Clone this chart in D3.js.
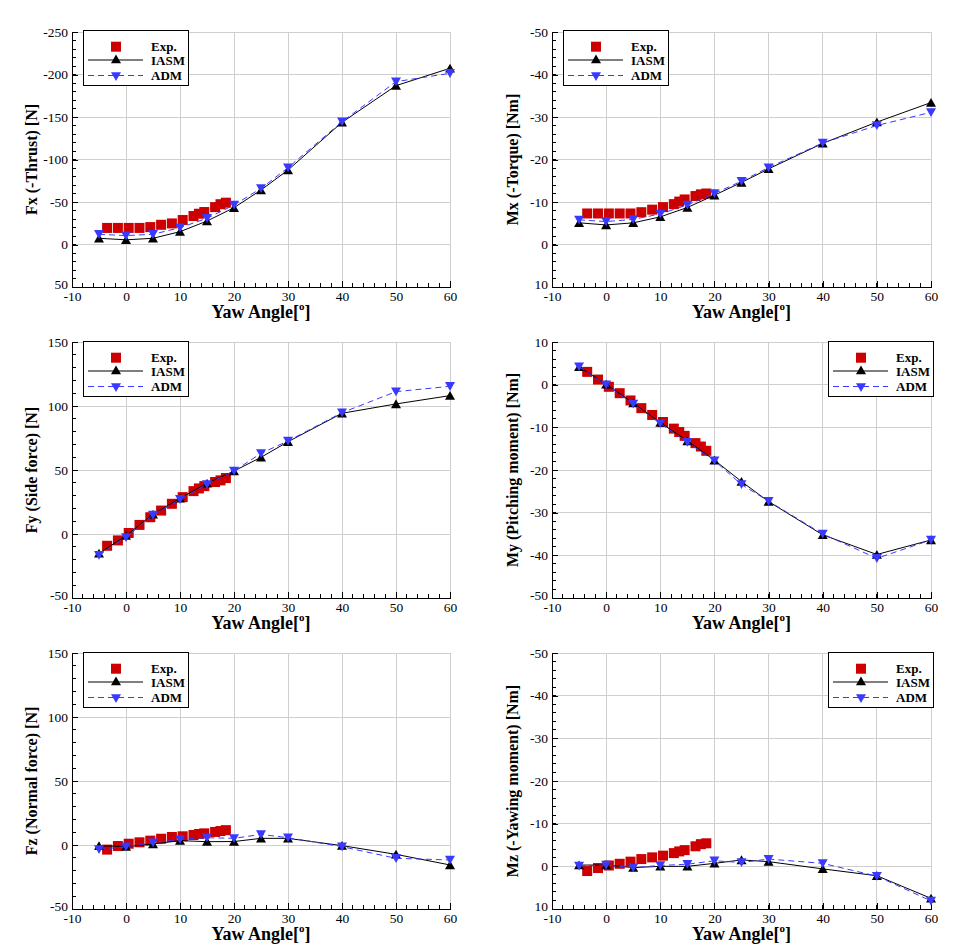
<!DOCTYPE html>
<html><head><meta charset="utf-8">
<script src="https://cdn.jsdelivr.net/npm/d3@7"></script>
<style>body{margin:0;background:#fff} svg{display:block}</style>
</head><body><svg id="c" width="954" height="945"></svg>
<script>
// ---------- data ----------
const yawExp = [-3.5,-1.5,0.5,2.5,4.5,6.5,8.5,10.5,12.5,13.5,14.5,16.5,17.5,18.5];
const yawSim = [-5,0,5,10,15,20,25,30,40,50,60];
const xTicks = [-10,0,10,20,30,40,50,60];

const fxExp  = [-19.5,-19.5,-19.5,-19.5,-20.5,-23.2,-24.8,-28.8,-33.5,-36.2,-38.2,-44,-47.4,-49.2];
const fxIASM = [-7.3,-5.5,-7.3,-15.1,-27.6,-43.3,-64.1,-87.6,-143.7,-186.9,-207.3];
const fxADM  = [-12,-10.5,-12,-19.8,-30.8,-46.5,-66,-90.4,-144.5,-191.6,-201.4];
const fxTicks = [-250,-200,-150,-100,-50,0,50];

const mxExp  = [-7.3,-7.3,-7.3,-7.3,-7.3,-7.6,-8.2,-8.8,-9.5,-10.1,-10.6,-11.4,-11.8,-12.0];
const mxIASM = [-5.1,-4.6,-5.1,-6.5,-8.7,-11.6,-14.6,-17.8,-23.8,-28.8,-33.4];
const mxADM  = [-5.8,-5.4,-5.9,-7.2,-9.3,-12.0,-14.9,-18.1,-23.9,-28.0,-31.1];
const mxTicks = [-50,-40,-30,-20,-10,0,10];

const fyExp  = [-9.2,-5.0,0.8,7.1,13.1,18.3,23.6,28.8,33.5,35.6,37.4,40.6,41.9,43.7];
const fyIASM = [-15.1,-1.3,15.4,27.9,39.6,49.2,59.9,72.1,94.3,101.6,108.1];
const fyADM  = [-16.5,-2.6,14.8,27.1,38.8,49.2,63,72.7,94.8,111.2,115.4];
const fyTicks = [-50,0,50,100,150];

const myExp  = [3.0,1.2,-0.5,-2.0,-3.7,-5.5,-7.1,-8.75,-10.3,-11.1,-12.0,-13.7,-14.5,-15.5];
const myIASM = [4.2,0.1,-4.3,-8.9,-13.2,-17.7,-22.7,-27.4,-35.2,-39.8,-36.4];
const myADM  = [4.2,0.0,-4.5,-9.1,-13.5,-17.8,-23.4,-27.3,-35.0,-40.7,-36.4];
const myTicks = [-50,-40,-30,-20,-10,0,10];

const fzExp  = [-3.6,-0.8,1.0,2.1,3.4,4.9,6.25,6.8,7.8,8.6,9.1,10.2,10.9,11.6];
const fzIASM = [-0.6,-1.2,0.8,3.4,2.6,2.7,5.2,5.2,-0.5,-7.3,-15.6];
const fzADM  = [-3.4,-1.3,1.8,4.4,5.7,5.2,8.3,5.7,-1.3,-10.4,-11.7];
const fzTicks = [-50,0,50,100,150];

const mzExp  = [1.1,0.4,-0.2,-0.6,-1.1,-1.7,-2.1,-2.5,-3.1,-3.5,-3.8,-4.7,-5.2,-5.4];
const mzIASM = [-0.3,-0.3,0.3,0.0,0.0,-0.7,-1.5,-1.1,0.6,2.2,7.5];
const mzADM  = [-0.1,-0.3,0.3,-0.2,-0.5,-1.3,-0.9,-1.7,-0.7,2.3,8.1];
const mzTicks = [-50,-40,-30,-20,-10,0,10];

const seriesNames = ["Exp.","IASM","ADM"];

// ---------- layout ----------
const cols = [{x0:72,x1:450,tx:31},{x0:552,x1:931,tx:512}];
const rows = [{y0:32,y1:287},{y0:342,y1:598},{y0:653,y1:909}];

const panels = [
  {c:0,r:0,title:"Fx (-Thrust) [N]",exp:fxExp,iasm:fxIASM,adm:fxADM,ticks:fxTicks,bottom:50,top:-250,minor:10,leg:"left",ly:-2},
  {c:1,r:0,title:"Mx (-Torque) [Nm]",exp:mxExp,iasm:mxIASM,adm:mxADM,ticks:mxTicks,bottom:10,top:-50,minor:2,leg:"left",ly:-2},
  {c:0,r:1,title:"Fy (Side force) [N]",exp:fyExp,iasm:fyIASM,adm:fyADM,ticks:fyTicks,bottom:-50,top:150,minor:10,leg:"left",ly:-1},
  {c:1,r:1,title:"My (Pitching moment) [Nm]",exp:myExp,iasm:myIASM,adm:myADM,ticks:myTicks,bottom:-50,top:10,minor:2,leg:"right",ly:-1},
  {c:0,r:2,title:"Fz (Normal force) [N]",exp:fzExp,iasm:fzIASM,adm:fzADM,ticks:fzTicks,bottom:-50,top:150,minor:10,leg:"left",ly:-1},
  {c:1,r:2,title:"Mz (-Yawing moment) [Nm]",exp:mzExp,iasm:mzIASM,adm:mzADM,ticks:mzTicks,bottom:10,top:-50,minor:2,leg:"right",ly:-1}
];

const RED="#cc0000", BLUE="#3a3aff", BLACK="#000", GRID="#cfcfcf";
const FONT="'Liberation Serif','Times New Roman',serif";
const svg = d3.select("#c");

const triUp = "M0,-4.6L5,4.2L-5,4.2Z";
const triDown = "M0,4.6L5,-4.2L-5,-4.2Z";
const SQ = 10;

panels.forEach(p => {
  const C = cols[p.c], R = rows[p.r];
  const x = d3.scaleLinear().domain([-10,60]).range([C.x0,C.x1]);
  const y = d3.scaleLinear().domain([p.bottom,p.top]).range([R.y1,R.y0]);
  const g = svg.append("g");

  // grid
  g.selectAll(".gx").data(xTicks).join("line")
    .attr("x1",d=>x(d)).attr("x2",d=>x(d)).attr("y1",R.y0).attr("y2",R.y1)
    .attr("stroke",GRID).attr("stroke-width",1).attr("shape-rendering","crispEdges");
  g.selectAll(".gy").data(p.ticks).join("line")
    .attr("y1",d=>y(d)).attr("y2",d=>y(d)).attr("x1",C.x0).attr("x2",C.x1)
    .attr("stroke",GRID).attr("stroke-width",1).attr("shape-rendering","crispEdges");

  // minor ticks
  const lo = Math.min(p.bottom,p.top), hi = Math.max(p.bottom,p.top);
  const yMinor = d3.range(lo, hi+0.001, p.minor);
  const xMinor = d3.range(-10, 60.001, 2);
  g.selectAll(".mx").data(xMinor).join("line")
    .attr("x1",d=>x(d)).attr("x2",d=>x(d)).attr("y1",R.y1).attr("y2",R.y1-4)
    .attr("stroke",BLACK).attr("shape-rendering","crispEdges");
  g.selectAll(".my").data(yMinor).join("line")
    .attr("y1",d=>y(d)).attr("y2",d=>y(d)).attr("x1",C.x0).attr("x2",C.x0+4)
    .attr("stroke",BLACK).attr("shape-rendering","crispEdges");

  // axes
  const ax = g.append("g").attr("transform",`translate(0,${R.y1})`)
    .call(d3.axisBottom(x).tickValues(xTicks).tickSize(-6).tickSizeOuter(0).tickPadding(4).tickFormat(d=>String(d)));
  const ay = g.append("g").attr("transform",`translate(${C.x0},0)`)
    .call(d3.axisLeft(y).tickValues(p.ticks).tickSize(-6).tickSizeOuter(0).tickPadding(4).tickFormat(d=>String(d)));
  [ax,ay].forEach(a=>{
    a.selectAll("text").attr("font-family",FONT).attr("font-size",13.5).attr("fill","#000");
    a.selectAll("path,line").attr("stroke","#000").attr("shape-rendering","crispEdges");
  });
  // nudge the bottom-most y label up slightly so it does not collide with the first x label
  ay.selectAll(".tick").filter(d=>d===p.bottom).select("text").attr("dy","0.1em");

  // series
  const line = d3.line().x(d=>x(d[0])).y(d=>y(d[1]));
  const iasm = yawSim.map((v,i)=>[v,p.iasm[i]]);
  const adm = yawSim.map((v,i)=>[v,p.adm[i]]);
  const exp = yawExp.map((v,i)=>[v,p.exp[i]]);

  g.selectAll(".ex").data(exp).join("rect")
    .attr("x",d=>x(d[0])-SQ/2).attr("y",d=>y(d[1])-SQ/2).attr("width",SQ).attr("height",SQ).attr("fill",RED);
  g.append("path").datum(iasm).attr("d",line).attr("fill","none").attr("stroke",BLACK).attr("stroke-width",1);
  g.selectAll(".ia").data(iasm).join("path").attr("d",triUp)
    .attr("transform",d=>`translate(${x(d[0])},${y(d[1])})`).attr("fill",BLACK);
  g.append("path").datum(adm).attr("d",line).attr("fill","none").attr("stroke",BLUE).attr("stroke-width",1).attr("stroke-dasharray","6,4");
  g.selectAll(".ad").data(adm).join("path").attr("d",triDown)
    .attr("transform",d=>`translate(${x(d[0])},${y(d[1])})`).attr("fill",BLUE);

  // y title
  g.append("text").attr("transform",`translate(${C.tx},${(R.y0+R.y1)/2}) rotate(-90)`)
    .attr("text-anchor","middle").attr("dominant-baseline","central")
    .attr("font-family",FONT).attr("font-weight","bold").attr("font-size",16).text(p.title);
  // x title
  const xt = g.append("text").attr("x",(C.x0+C.x1)/2).attr("y",R.y1+31)
    .attr("text-anchor","middle").attr("font-family",FONT).attr("font-weight","bold").attr("font-size",18);
  xt.append("tspan").text("Yaw Angle[");
  xt.append("tspan").attr("font-size",11).attr("dy",-8).text("o");
  xt.append("tspan").attr("dy",8).text("]");

  // legend
  const lx = p.leg==="left" ? C.x0+11 : C.x1-103;
  const ly = R.y0 + p.ly;
  const lg = g.append("g").attr("transform",`translate(${lx},${ly})`);
  lg.append("rect").attr("x",0.5).attr("y",0.5).attr("width",105).attr("height",55)
    .attr("fill","#fff").attr("stroke","#000").attr("stroke-width",1);
  const rowsY = [16.7,30,45.5];
  lg.append("rect").attr("x",33-SQ/2).attr("y",rowsY[0]-SQ/2).attr("width",SQ).attr("height",SQ).attr("fill",RED);
  lg.append("line").attr("x1",5).attr("x2",60).attr("y1",rowsY[1]).attr("y2",rowsY[1]).attr("stroke",BLACK);
  lg.append("path").attr("d",triUp).attr("transform",`translate(33,${rowsY[1]-1})`).attr("fill",BLACK);
  lg.append("line").attr("x1",5).attr("x2",60).attr("y1",rowsY[2]).attr("y2",rowsY[2]).attr("stroke",BLUE).attr("stroke-dasharray","6,4");
  lg.append("path").attr("d",triDown).attr("transform",`translate(33,${rowsY[2]+1})`).attr("fill",BLUE);
  seriesNames.forEach((s,i)=>{
    lg.append("text").attr("x",68).attr("y",rowsY[i]).attr("dominant-baseline","central")
      .attr("font-family",FONT).attr("font-weight","bold").attr("font-size",13).text(s);
  });
});
</script></body></html>
